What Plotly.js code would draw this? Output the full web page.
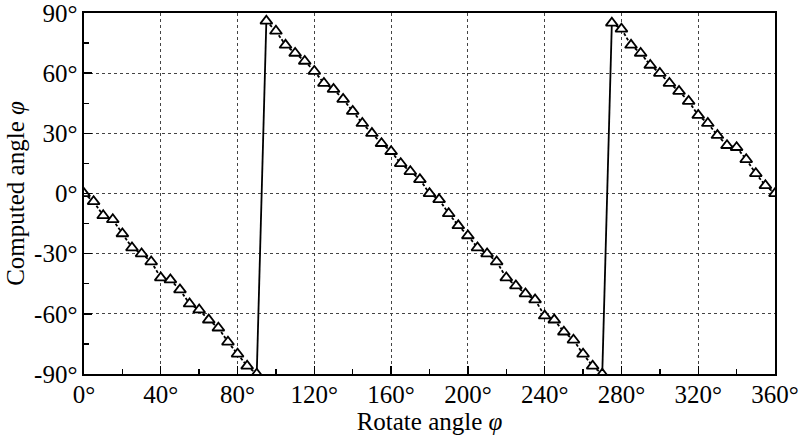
<!DOCTYPE html>
<html>
<head>
<meta charset="utf-8">
<script src="https://cdn.plot.ly/plotly-3.0.1.min.js"></script>
<style>html,body{margin:0;padding:0;background:#fff;}#chart{width:800px;height:437px;}</style>
</head>
<body>
<div id="chart"></div>
<script>
// Rotate angle (deg), every 5 degrees
const rotateAngle = [0,5,10,15,20,25,30,35,40,45,50,55,60,65,70,75,80,85,90,
  95,100,105,110,115,120,125,130,135,140,145,150,155,160,165,170,175,180,
  185,190,195,200,205,210,215,220,225,230,235,240,245,250,255,260,265,270,
  275,280,285,290,295,300,305,310,315,320,325,330,335,340,345,350,355,360];
// Computed angle (deg)
const computedAngle = [0,-4,-11,-13,-20,-27,-30,-34,-42,-43,-48,-55,-58,-63,-67,-74,-80,-86,-90,
  86,81,74,70,66,61,55,52,47,41,35,30,25,21,15,11,7,0,
  -3,-10,-16,-21,-27,-30,-34,-42,-46,-50,-53,-61,-63,-69,-73,-80,-86,-90,
  85,82,74,70,64,60,55,51,46,39,35,29,24,23,17,10,4,0];
const xTickVals = [0,40,80,120,160,200,240,280,320,360];
const xTickText = ['0°','40°','80°','120°','160°','200°','240°','280°','320°','360°'];
const yTickVals = [-90,-60,-30,0,30,60,90];
const yTickText = ['-90°','-60°','-30°','0°','30°','60°','90°'];

// split into dashed descending segments and solid wrap-around jumps
const dashX = [], dashY = [], jumpX = [], jumpY = [];
for (let i = 0; i < rotateAngle.length - 1; i++) {
  const a = [rotateAngle[i], rotateAngle[i+1]];
  const b = [computedAngle[i], computedAngle[i+1]];
  if (b[1] > b[0]) { jumpX.push(a[0], a[1], null); jumpY.push(b[0], b[1], null); }
  else { dashX.push(a[0], a[1], null); dashY.push(b[0], b[1], null); }
}

const font = {family: '"Liberation Serif", "Times New Roman", serif', color: '#000'};
const traces = [
  {x: dashX, y: dashY, mode: 'lines', line: {color: '#000', width: 1.8, dash: '3px,2px'}, hoverinfo: 'skip'},
  {x: jumpX, y: jumpY, mode: 'lines', line: {color: '#000', width: 1.8}, hoverinfo: 'skip'},
  {x: rotateAngle, y: computedAngle, mode: 'markers',
   marker: {symbol: 'triangle-up', size: 10.5, color: '#fff', line: {color: '#000', width: 1.8}}}
];
const axisCommon = {
  showline: true, linecolor: '#000', linewidth: 1.6, mirror: true,
  ticks: 'inside', ticklen: 8, tickwidth: 1.4, tickcolor: '#000',
  showgrid: true, gridcolor: '#444', griddash: 'dot', gridwidth: 1,
  zeroline: false, tickmode: 'array', ticklabeloverflow: 'allow',
  tickfont: Object.assign({size: 25}, font)
};
const layout = {
  width: 800, height: 437,
  margin: {l: 84, r: 25, t: 13, b: 63},
  paper_bgcolor: '#fff', plot_bgcolor: '#fff',
  showlegend: false,
  font: font,
  xaxis: Object.assign({}, axisCommon, {
    range: [0, 360], tickvals: xTickVals, ticktext: xTickText, ticklabelstandoff: -3,
    minor: {ticks: 'inside', ticklen: 5, tickwidth: 1.4, tickcolor: '#000', dtick: 20, tick0: 0, showgrid: false},
    title: {text: 'Rotate angle <i>φ</i>', font: Object.assign({size: 25}, font), standoff: 0}
  }),
  yaxis: Object.assign({}, axisCommon, {
    range: [-90, 90], tickvals: yTickVals, ticktext: yTickText,
    minor: {ticks: 'inside', ticklen: 5, tickwidth: 1.4, tickcolor: '#000', dtick: 15, tick0: 0, showgrid: false},
    title: {text: 'Computed angle <i>φ</i>', font: Object.assign({size: 25}, font), standoff: 2}
  })
};
Plotly.newPlot('chart', traces, layout, {displayModeBar: false, staticPlot: true});
</script>
</body>
</html>
